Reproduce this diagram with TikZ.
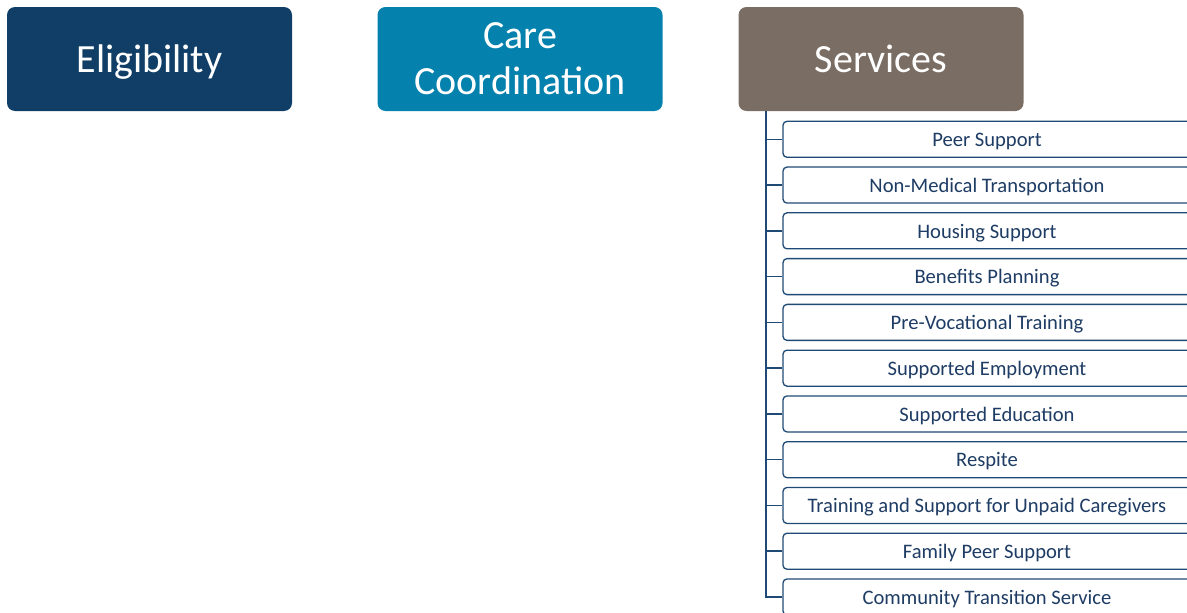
\documentclass[tikz,border=0pt]{standalone}
\usepackage{fontspec}
\setmainfont{Carlito}
\usepackage{tikz}
\usetikzlibrary{positioning}
\definecolor{eligblue}{HTML}{103E67}
\definecolor{careblue}{HTML}{0581AD}
\definecolor{servgrey}{HTML}{7A6D64}
\definecolor{itemblue}{HTML}{1F4A75}
\definecolor{itemtext}{HTML}{1E3C64}

\begin{document}
\begin{tikzpicture}[x=1pt,y=-1pt]
        \useasboundingbox (0,0) rectangle (1187,613);
        \begin{scope}[every node/.style={rounded corners=8pt, text=white, inner sep=0pt,
                      minimum width=285pt, minimum height=104pt, align=center,
                      font=\fontsize{40}{46}\selectfont}]
            \node[fill=eligblue, text depth=1pt] (E) at (149.5,59) {Eligibility};
            \node[fill=careblue] (C) at (520,59) {Care\\Coordination};
            \node[fill=servgrey, text depth=1pt] (S) at (881,59) {Services};
        \end{scope}
        \coordinate (trunk) at (766,111);
        \begin{scope}[every node/.style={draw=itemblue, line width=1.3pt, fill=white,
                      rounded corners=4pt, minimum width=408pt, minimum height=36pt,
                      text height=15.5pt, text depth=1pt,
                      text=itemtext, font=\fontsize{20.6}{22}\selectfont}]
            \foreach \txt [count=\i] in {Peer Support, Non-Medical Transportation,
                    Housing Support, Benefits Planning, Pre-Vocational Training,
                    Supported Employment, Supported Education, Respite,
                    Training and Support for Unpaid Caregivers, Family Peer Support,
                    Community Transition Service}
                \node (s\i) at (987,{139.3+45.77*(\i-1)}) {\txt};
        \end{scope}
        \foreach \i in {1,...,11}
            \draw[itemblue, line width=1.5pt] (trunk) |- (s\i.west);
\end{tikzpicture}
\end{document}
